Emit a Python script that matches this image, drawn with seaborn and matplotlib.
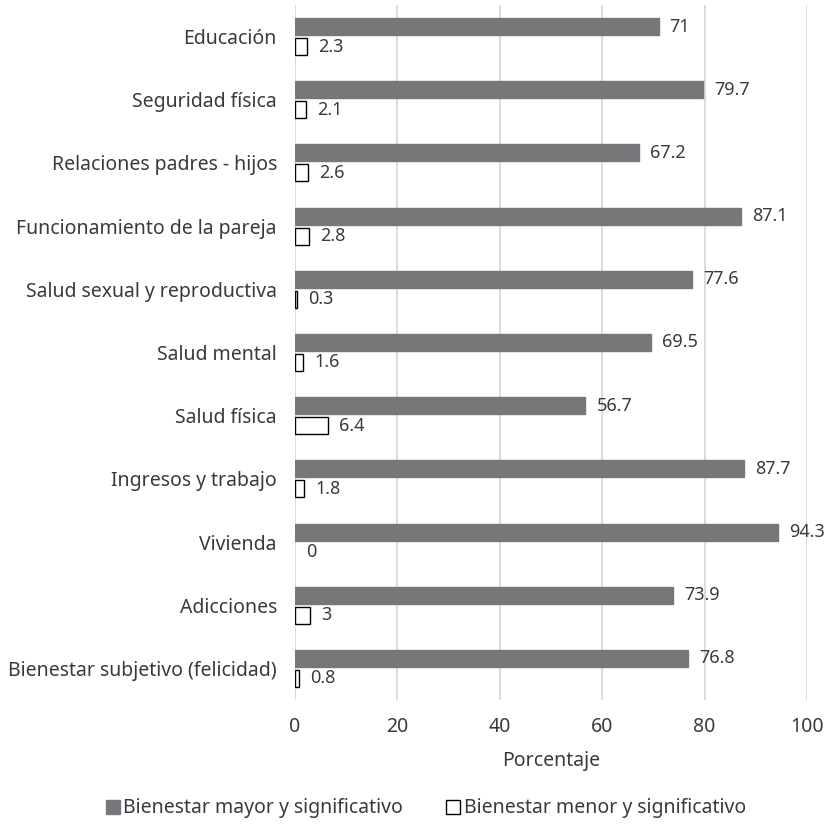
import matplotlib
matplotlib.use("Agg")
import matplotlib.pyplot as plt
import seaborn as sns
import pandas as pd
from matplotlib.patches import Patch

categories = ["Educación", "Seguridad física", "Relaciones padres - hijos",
              "Funcionamiento de la pareja", "Salud sexual y reproductiva",
              "Salud mental", "Salud física", "Ingresos y trabajo", "Vivienda",
              "Adicciones", "Bienestar subjetivo (felicidad)"]
mayor = [71, 79.7, 67.2, 87.1, 77.6, 69.5, 56.7, 87.7, 94.3, 73.9, 76.8]
menor = [2.3, 2.1, 2.6, 2.8, 0.3, 1.6, 6.4, 1.8, 0, 3, 0.8]
series_names = ["Bienestar mayor y significativo", "Bienestar menor y significativo"]

df = pd.DataFrame({
    "cat": categories * 2,
    "val": mayor + menor,
    "serie": [series_names[0]] * len(categories) + [series_names[1]] * len(categories),
})

sns.set_theme(style="white")
plt.rcParams['font.family'] = ['Noto Sans', 'DejaVu Sans']

txt = "#3a3a3a"
gray = "#76777a"
fig = plt.figure(figsize=(8.27, 8.25), dpi=100)
ax = fig.add_axes([0.3567, 0.1515, 0.6191, 0.8425])

sns.barplot(data=df, y="cat", x="val", hue="serie", orient="h",
            palette=[gray, "white"], width=0.632, gap=0.15,
            edgecolor="none", ax=ax, legend=False)

conts = ax.containers
for p, v in zip(conts[1], menor):
    p.set_edgecolor("black")
    p.set_linewidth(1.0 if v > 0 else 0)
for p in conts[0]:
    p.set_edgecolor(gray)

def fmt(v):
    return str(int(v)) if float(v).is_integer() else str(v)

for cont, vals in zip(conts, [mayor, menor]):
    ax.bar_label(cont, labels=[fmt(v) for v in vals], padding=8,
                 fontsize=13, color=txt)

ax.set_xlim(0, 100)
ax.set_xticks([0, 20, 40, 60, 80, 100])
ax.set_ylim(len(categories) - 0.5, -0.5)
ax.grid(axis="x", color="#d9d9d9", linewidth=1.3)
ax.set_axisbelow(True)
for s in ax.spines.values():
    s.set_visible(False)
ax.tick_params(axis="both", length=0, labelsize=14, labelcolor=txt)
ax.tick_params(axis="x", pad=12)
ax.tick_params(axis="y", pad=13)
ax.set_ylabel("")
ax.set_xlabel("Porcentaje", fontsize=14, color=txt, labelpad=10)

handles = [Patch(facecolor=gray, edgecolor=gray),
           Patch(facecolor="white", edgecolor="black", linewidth=1.0)]
fig.legend(handles, series_names, loc="center", bbox_to_anchor=(0.515, 0.02),
           ncol=2, frameon=False, fontsize=14, labelcolor=txt,
           handlelength=0.7, handleheight=0.7, handletextpad=0.2,
           columnspacing=2.2)

fig.savefig("out.png", dpi=100)
